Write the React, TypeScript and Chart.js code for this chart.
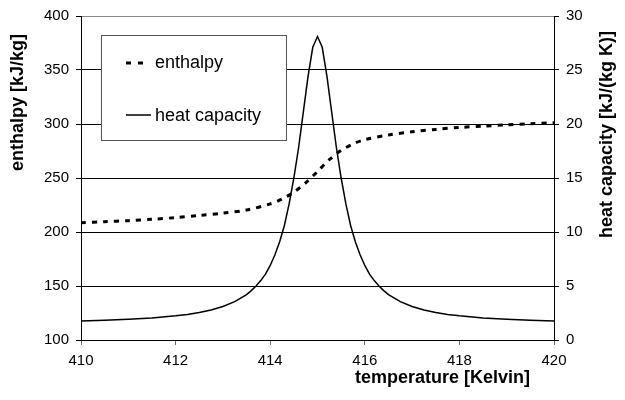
import React, { useEffect, useRef } from 'react';
import { Chart, registerables } from 'chart.js';

Chart.register(...registerables);

// ---- data ----
const cpTemps = [
  410, 410.5, 411, 411.5, 412, 412.25, 412.5, 412.75, 413, 413.25, 413.5, 413.6, 413.7, 413.8, 413.9,
  414, 414.1, 414.2, 414.3, 414.4, 414.5, 414.6, 414.7, 414.8, 414.9, 415, 415.1, 415.2, 415.3, 415.4,
  415.5, 415.6, 415.7, 415.8, 415.9, 416, 416.1, 416.2, 416.3, 416.4, 416.5, 416.75, 417, 417.25, 417.5,
  417.75, 418, 418.5, 419, 419.5, 420,
];
const cpValues = [
  1.77, 1.83, 1.92, 2.04, 2.24, 2.37, 2.55, 2.78, 3.1, 3.55, 4.2, 4.57, 5.0, 5.5, 6.1,
  6.9, 7.9, 9.1, 10.6, 12.6, 15.0, 17.8, 21.1, 24.4, 27.1, 28.1, 27.1, 24.4, 21.1, 17.8,
  15.0, 12.6, 10.6, 9.1, 7.9, 6.9, 6.1, 5.5, 5.0, 4.57, 4.2, 3.55, 3.1, 2.78, 2.55,
  2.37, 2.24, 2.04, 1.92, 1.83, 1.77,
];
const hTemps = [
  410, 410.5, 411, 411.5, 412, 412.5, 413, 413.5, 414, 414.25, 414.5, 414.75, 415, 415.25, 415.5,
  415.75, 416, 416.5, 417, 417.5, 418, 418.5, 419, 419.5, 420,
];
const hValues = [
  208.5, 209.5, 210.5, 211.8, 213.3, 215.3, 217.5, 220.3, 226, 230.5, 237, 245.5, 256, 267, 275.5,
  281.5, 285.5, 289.8, 292.8, 295, 296.8, 298, 299.2, 300.2, 301.2,
];
const seriesNames = ['enthalpy', 'heat capacity'];
const xTitle = 'temperature [Kelvin]';
const yLeftTitle = 'enthalpy [kJ/kg]';
const yRightTitle = 'heat capacity [kJ/(kg K)]';
const xRange = [410, 420, 2];
const yLeftRange = [100, 400, 50];
const yRightRange = [0, 30, 5];

const FONT = '"Liberation Sans", Arial, sans-serif';

const overlayPlugin = {
  id: 'overlay',
  afterDraw(chart: any) {
    const { ctx, chartArea } = chart;
    const L = chartArea.left;
    const T = chartArea.top;
    ctx.save();
    // legend box
    const bx = L + 20, by = T + 19, bw = 185, bh = 105;
    ctx.fillStyle = '#fff';
    ctx.fillRect(bx, by, bw, bh);
    ctx.strokeStyle = '#555';
    ctx.lineWidth = 1;
    ctx.strokeRect(bx + 0.5, by + 0.5, bw, bh);

    ctx.font = `18px ${FONT}`;
    ctx.fillStyle = '#000';
    ctx.textBaseline = 'middle';
    ctx.textAlign = 'left';
    // enthalpy entry
    ctx.strokeStyle = '#000';
    ctx.lineWidth = 3;
    ctx.setLineDash([5, 7]);
    ctx.beginPath();
    ctx.moveTo(bx + 25, by + 28);
    ctx.lineTo(bx + 43, by + 28);
    ctx.stroke();
    ctx.setLineDash([]);
    ctx.fillText(seriesNames[0], bx + 54, by + 28);
    // heat capacity entry
    ctx.lineWidth = 1.5;
    ctx.beginPath();
    ctx.moveTo(bx + 25, by + 80);
    ctx.lineTo(bx + 50, by + 80);
    ctx.stroke();
    ctx.fillText(seriesNames[1], bx + 54, by + 81);

    // axis titles
    ctx.font = `bold 18px ${FONT}`;
    ctx.textBaseline = 'middle';
    ctx.textAlign = 'left';
    ctx.fillText(xTitle, L + 274, chartArea.bottom + 38);

    ctx.save();
    ctx.translate(18, T + 18);
    ctx.rotate(-Math.PI / 2);
    ctx.textAlign = 'right';
    ctx.fillText(yLeftTitle, 0, 0);
    ctx.restore();

    ctx.save();
    ctx.translate(chartArea.right + 53, T + 15);
    ctx.rotate(-Math.PI / 2);
    ctx.textAlign = 'right';
    ctx.fillText(yRightTitle, 0, 0);
    ctx.restore();

    ctx.restore();
  },
};

export default function App() {
  const ref = useRef<HTMLCanvasElement>(null);
  useEffect(() => {
    if (!ref.current) return;
    const tickFont = { family: FONT, size: 15 };
    const chart = new Chart(ref.current, {
      type: 'line',
      data: {
        datasets: [
          {
            label: seriesNames[0],
            data: hTemps.map((t, i) => ({ x: t, y: hValues[i] })),
            yAxisID: 'y',
            borderColor: '#000',
            borderWidth: 3,
            borderDash: [5, 6],
            borderCapStyle: 'butt',
            pointRadius: 0,
            tension: 0.3,
            fill: false,
          },
          {
            label: seriesNames[1],
            data: cpTemps.map((t, i) => ({ x: t, y: cpValues[i] })),
            yAxisID: 'y1',
            borderColor: '#000',
            borderWidth: 1.5,
            pointRadius: 0,
            tension: 0,
            fill: false,
          },
        ],
      },
      options: {
        responsive: false,
        animation: false,
        layout: { padding: { top: 10, left: 0, right: 0, bottom: 0 } },
        plugins: { legend: { display: false }, tooltip: { enabled: false } },
        scales: {
          x: {
            type: 'linear',
            min: xRange[0],
            max: xRange[1],
            afterFit: (s: any) => { s.height = 60; },
            ticks: { stepSize: xRange[2], color: '#000', font: tickFont, padding: 7, maxRotation: 0 },
            grid: { drawOnChartArea: false, drawTicks: true, tickLength: 5, tickColor: '#666' },
            border: { display: true, color: '#000', width: 1 },
          },
          y: {
            type: 'linear',
            position: 'left',
            min: yLeftRange[0],
            max: yLeftRange[1],
            afterFit: (s: any) => { s.width = 81; },
            ticks: { stepSize: yLeftRange[2], color: '#000', font: tickFont, padding: 7 },
            grid: {
              color: (c: any) => (c.tick && c.tick.value === yLeftRange[1] ? '#8a8a8a' : '#000'),
              lineWidth: 1,
              drawTicks: true,
              tickLength: 5,
              tickColor: '#000',
            },
            border: { display: true, color: '#000', width: 1 },
          },
          y1: {
            type: 'linear',
            position: 'right',
            min: yRightRange[0],
            max: yRightRange[1],
            afterFit: (s: any) => { s.width = 71; },
            ticks: { stepSize: yRightRange[2], color: '#000', font: tickFont, padding: 7 },
            grid: { drawOnChartArea: false, drawTicks: true, tickLength: 5, tickColor: '#000' },
            border: { display: true, color: '#000', width: 1 },
          },
        },
      },
      plugins: [overlayPlugin],
    } as any);
    return () => chart.destroy();
  }, []);
  return (
    <div style={{ position: 'fixed', left: 0, top: 0, width: 625, height: 400, background: '#fff' }}>
      <canvas ref={ref} width={625} height={400} style={{ width: 625, height: 400, display: 'block' }} />
    </div>
  );
}
